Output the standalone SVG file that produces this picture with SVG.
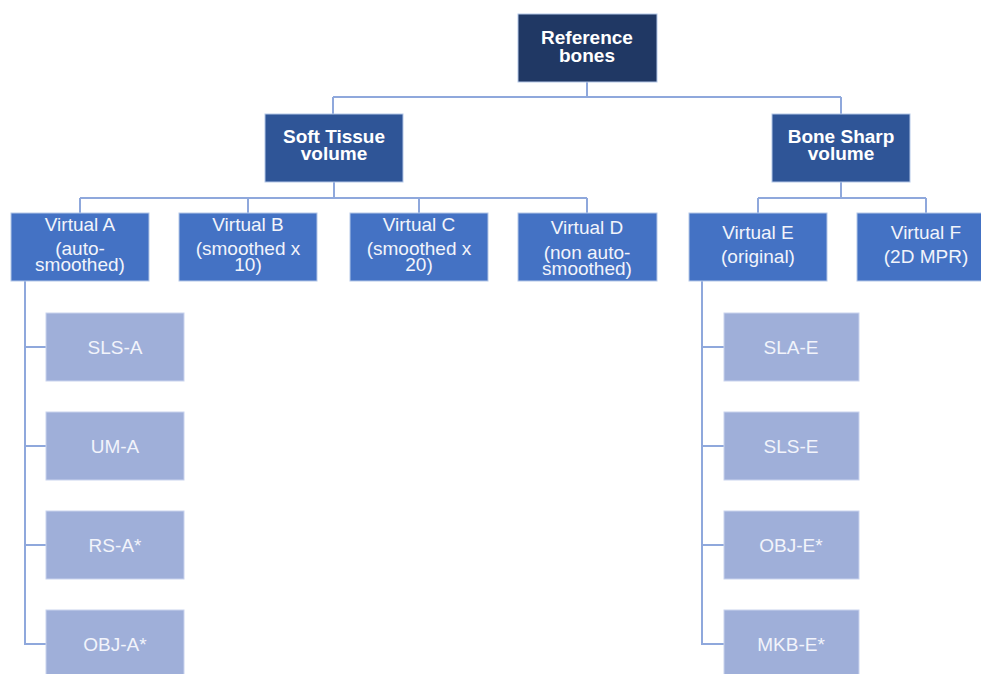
<svg xmlns="http://www.w3.org/2000/svg" width="981" height="674" viewBox="0 0 981 674">
<style>
.l0{fill:#203864;stroke:#B4C7E7;stroke-width:1}
.l1{fill:#2F5597;stroke:#B4C7E7;stroke-width:1}
.l2{fill:#4472C4;stroke:#B4C7E7;stroke-width:1}
.l3{fill:#9FAFD9;stroke:#C9D3EE;stroke-width:1}
.tb{font-family:"Liberation Sans",Arial,sans-serif;font-size:19px;font-weight:bold;fill:#fff;text-anchor:middle}
.t{font-family:"Liberation Sans",Arial,sans-serif;font-size:19px;fill:#F2F4FB;text-anchor:middle}
.tc{font-family:"Liberation Sans",Arial,sans-serif;font-size:19px;fill:#F2F4FB;text-anchor:middle}
.c{fill:none;stroke:#8FA8DC;stroke-width:2}
</style>
<rect width="981" height="674" fill="#fff"/>
<g id="connectors">
<path class="c" d="M587 82V97M333 97H841M333 97V114M841 97V114"/>
<path class="c" d="M334 182V198M80 198H587M80 198V213M248 198V213M419 198V213M587 198V213"/>
<path class="c" d="M841 182V198M758 198H926M758 198V213M926 198V213"/>
<path class="c" d="M25 281V644H46M25 347H46M25 446H46M25 545H46"/>
<path class="c" d="M702 281V644H724M702 347H724M702 446H724M702 545H724"/>
</g>
<g id="n-ref"><rect class="l0" x="518" y="14" width="139" height="68"/><text class="tb" x="587" y="44">Reference</text><text class="tb" x="587" y="62">bones</text></g>
<g id="n-soft"><rect class="l1" x="265" y="114" width="138" height="68"/><text class="tb" x="334" y="143">Soft Tissue</text><text class="tb" x="334" y="160">volume</text></g>
<g id="n-bone"><rect class="l1" x="772" y="114" width="138" height="68"/><text class="tb" x="841" y="143">Bone Sharp</text><text class="tb" x="841" y="160">volume</text></g>
<g id="n-va"><rect class="l2" x="11" y="213" width="138" height="68"/><text class="t" x="80" y="231">Virtual A</text><text class="t" x="80" y="255">(auto-</text><text class="t" x="80" y="271">smoothed)</text></g>
<g id="n-vb"><rect class="l2" x="179" y="213" width="138" height="68"/><text class="t" x="248" y="231">Virtual B</text><text class="t" x="248" y="255">(smoothed x</text><text class="t" x="248" y="271">10)</text></g>
<g id="n-vc"><rect class="l2" x="350" y="213" width="138" height="68"/><text class="t" x="419" y="231">Virtual C</text><text class="t" x="419" y="255">(smoothed x</text><text class="t" x="419" y="271">20)</text></g>
<g id="n-vd"><rect class="l2" x="518" y="213" width="139" height="68"/><text class="t" x="587" y="234">Virtual D</text><text class="t" x="587" y="259">(non auto-</text><text class="t" x="587" y="275">smoothed)</text></g>
<g id="n-ve"><rect class="l2" x="689" y="213" width="138" height="68"/><text class="t" x="758" y="239">Virtual E</text><text class="t" x="758" y="263">(original)</text></g>
<g id="n-vf"><rect class="l2" x="857" y="213" width="138" height="68"/><text class="t" x="926" y="239">Virtual F</text><text class="t" x="926" y="263">(2D MPR)</text></g>
<g id="n-slsa"><rect class="l3" x="46" y="313" width="138" height="68"/><text class="tc" x="115" y="354">SLS-A</text></g>
<g id="n-uma"><rect class="l3" x="46" y="412" width="138" height="68"/><text class="tc" x="115" y="453">UM-A</text></g>
<g id="n-rsa"><rect class="l3" x="46" y="511" width="138" height="68"/><text class="tc" x="115" y="552">RS-A*</text></g>
<g id="n-obja"><rect class="l3" x="46" y="610" width="138" height="68"/><text class="tc" x="115" y="651">OBJ-A*</text></g>
<g id="n-slae"><rect class="l3" x="724" y="313" width="135" height="68"/><text class="tc" x="791" y="354">SLA-E</text></g>
<g id="n-slse"><rect class="l3" x="724" y="412" width="135" height="68"/><text class="tc" x="791" y="453">SLS-E</text></g>
<g id="n-obje"><rect class="l3" x="724" y="511" width="135" height="68"/><text class="tc" x="791" y="552">OBJ-E*</text></g>
<g id="n-mkbe"><rect class="l3" x="724" y="610" width="135" height="68"/><text class="tc" x="791" y="651">MKB-E*</text></g>
</svg>
